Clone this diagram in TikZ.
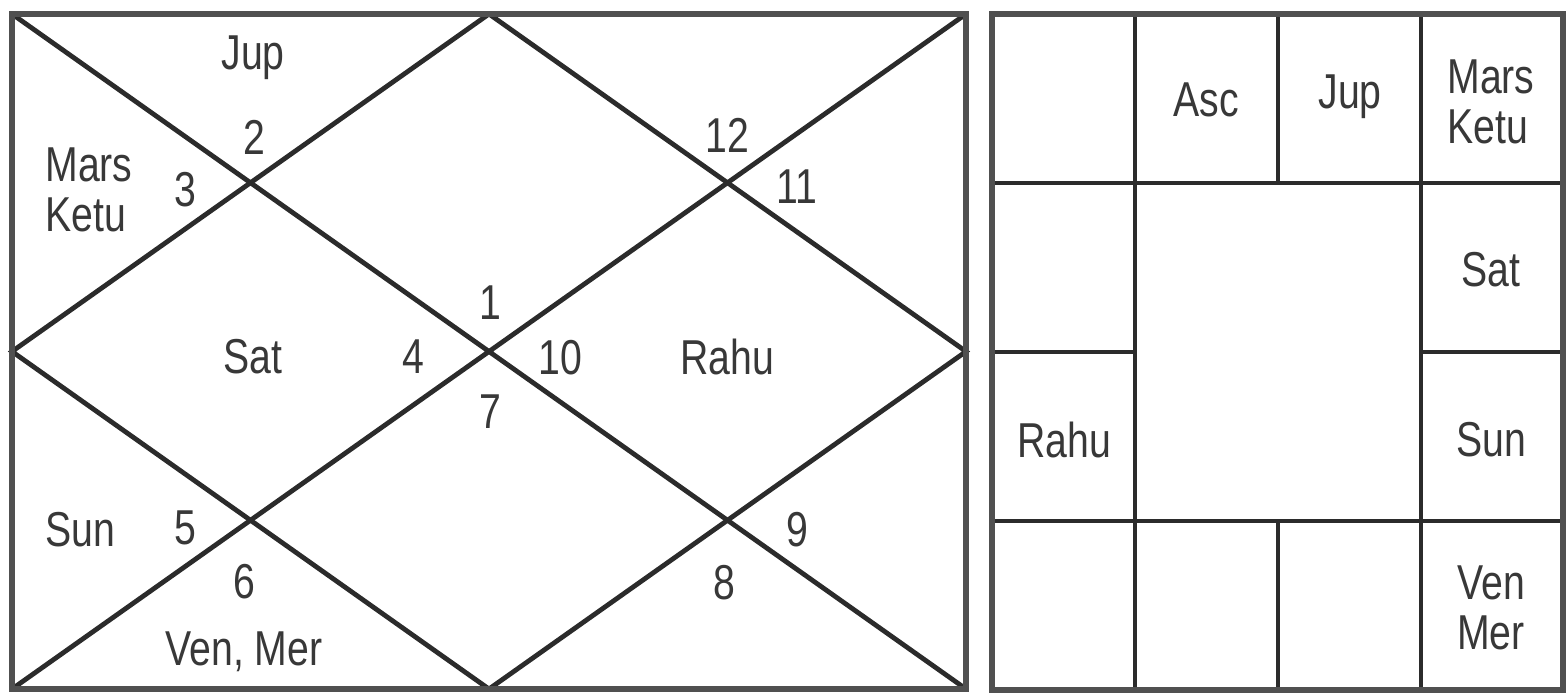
\documentclass[tikz,border=0pt]{standalone}
\usepackage{fontspec}
\setmainfont[FakeStretch=0.8]{Liberation Sans}
\usepackage{tikz}
\usetikzlibrary{positioning}
\definecolor{cline}{HTML}{2B2B2B}
\definecolor{cframe}{HTML}{505050}
\definecolor{ctext}{HTML}{383838}
\tikzset{lbl/.style={text=ctext, font=\fontsize{24.5}{25}\selectfont, inner sep=0pt, align=left}}

\begin{document}
\begin{tikzpicture}[x=0.5pt,y=-0.5pt]
 \useasboundingbox (0,0) rectangle (1566,696);
 % north indian chart
 \draw[cline, line width=2.4pt] (12,14) -- (966,689) (12,689) -- (966,14);
 \draw[cline, line width=2.4pt] (489,14) -- (966,351.5) -- (489,689) -- (12,351.5) -- cycle;
 \draw[cframe, line width=3pt] (12,14) rectangle (966,689);
 \foreach \n/\x/\y/\t in {jupN/253/58/Jup, marsN/89/190/{Mars\\Ketu}, satN/253/357/Sat, rahuN/727/357/Rahu,
   sunN/80/530/Sun, venN/244/652/{Ven, Mer}}
   \node[lbl] (\n) at (\x,\y) {\t};
 \foreach \h/\x/\y in {1/490/303, 2/254/137, 3/185/190, 4/413/357, 5/185/528, 6/244/582,
   7/490/412, 8/724/583, 9/797/530, 10/560/358, 11/797/187, 12/727/135}
   \node[lbl] (h\h) at (\x,\y) {\h};
 % south indian chart
 \draw[cline, line width=2.4pt] (992,183) -- (1563,183) (992,521) -- (1563,521)
   (992,352) -- (1135,352) (1421,352) -- (1563,352);
 \draw[cline, line width=2.4pt] (1135,14) -- (1135,690) (1421,14) -- (1421,690)
   (1278,14) -- (1278,183) (1278,521) -- (1278,690);
 \draw[cframe, line width=3pt] (992,14) rectangle (1563,690);
 \foreach \n/\x/\y/\t in {ascS/1206/100/Asc, jupS/1350/97/Jup, marsS/1491/102/{Mars\\Ketu}, satS/1491/270/Sat,
   rahuS/1064/440/Rahu, sunS/1491/440/Sun, venS/1491/608/{Ven\\Mer}}
   \node[lbl] (\n) at (\x,\y) {\t};
\end{tikzpicture}
\end{document}
